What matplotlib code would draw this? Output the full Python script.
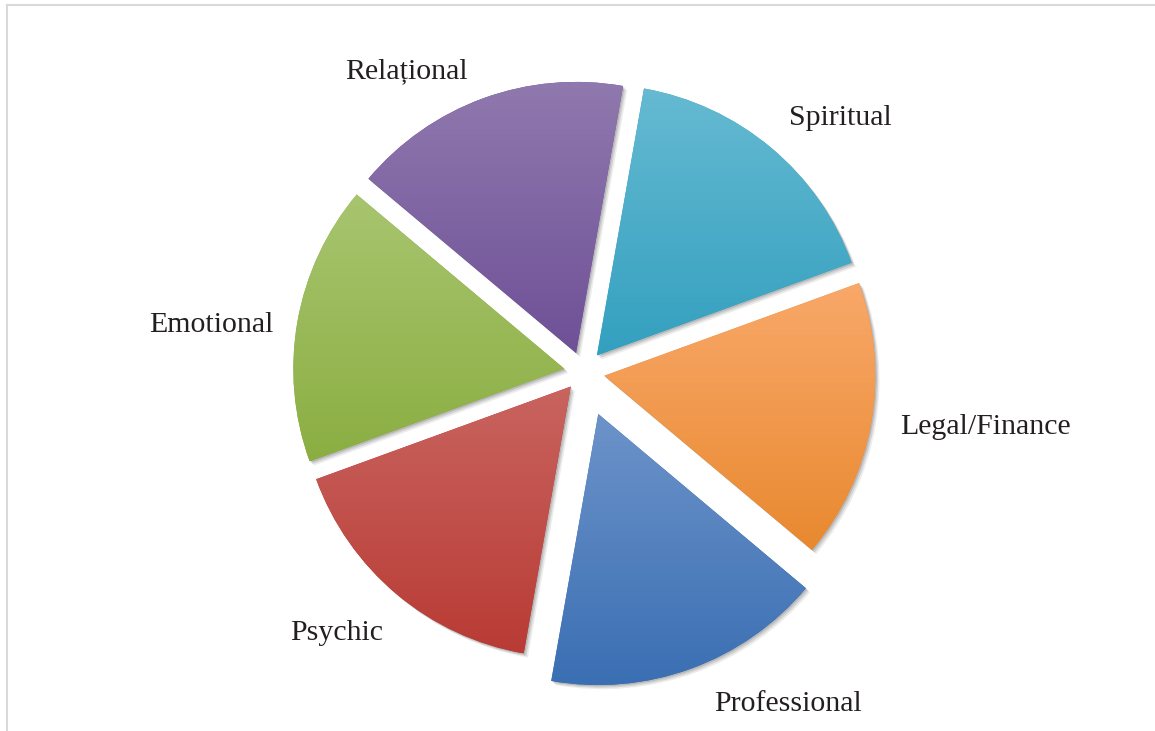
import numpy as np
import matplotlib
matplotlib.use('Agg')
import matplotlib.pyplot as plt
import matplotlib.patheffects as pe
from matplotlib.colors import to_rgb
from matplotlib.lines import Line2D

plt.rcParams['font.family'] = ['Liberation Serif', 'DejaVu Serif']

labels = ['Spiritual', 'Legal/Finance', 'Professional', 'Psychic', 'Emotional', 'Relațional']
values = [1, 1, 1, 1, 1, 1]
explode = [0.08, 0.08, 0.165, 0.07, 0.07, 0.075]
top_colors = ['#66bad2', '#f9a86a', '#6d93c9', '#c9645f', '#a8c56f', '#9079ae']
bottom_colors = ['#33a0bf', '#e8892f', '#3a6fb3', '#b93b35', '#8bae42', '#6e5097']

# label anchor points (figure pixels from top-left, baseline)
label_px = [(840, 125), (985, 434), (788, 711), (337, 640), (211, 332), (406, 78)]

W, H = 1155, 731
cx, cy, R = 583, 372, 271

fig = plt.figure(figsize=(W / 100, H / 100), dpi=100)
ax = fig.add_axes([0, 0, 1, 1])

wedges, _ = ax.pie(values, startangle=80, counterclock=False, explode=explode,
                   colors=bottom_colors, wedgeprops=dict(linewidth=0))

for w, c1, c2 in zip(wedges, top_colors, bottom_colors):
    w.set_path_effects([
        pe.SimplePatchShadow(offset=(3.0, -3.0), shadow_rgbFace='#9a9a9a', alpha=0.18),
        pe.SimplePatchShadow(offset=(2.0, -2.0), shadow_rgbFace='#8a8a8a', alpha=0.25),
        pe.SimplePatchShadow(offset=(1.0, -1.0), shadow_rgbFace='#7a7a7a', alpha=0.3),
        pe.Normal()])
    ext = w.get_path().get_extents()
    t = np.linspace(0, 1, 256)[:, None]
    grad = (1 - t) * np.array(to_rgb(c1)) + t * np.array(to_rgb(c2))
    grad = grad[:, None, :]
    im = ax.imshow(grad, extent=[ext.x0, ext.x1, ext.y0, ext.y1], origin='upper',
                   aspect='auto', interpolation='bilinear', zorder=w.get_zorder() + 0.1)
    im.set_clip_path(w)

for lab, (px, py) in zip(labels, label_px):
    ax.text((px - cx) / R, (H - py - (H - cy)) / R, lab, ha='center', va='baseline',
            fontsize=21.5, color='#231f20')

ax.set_aspect('auto')
ax.set_xlim(-cx / R, (W - cx) / R)
ax.set_ylim(-(H - cy) / R, cy / R)
ax.axis('off')

# outer frame (only top and left edges visible)
fig.add_artist(Line2D([7 / W, 1], [1 - 5 / H, 1 - 5 / H], color='#d9d9d9', lw=1.5))
fig.add_artist(Line2D([7 / W, 7 / W], [0, 1 - 5 / H], color='#d9d9d9', lw=1.5))

fig.savefig('out.png', dpi=100, facecolor='white')
